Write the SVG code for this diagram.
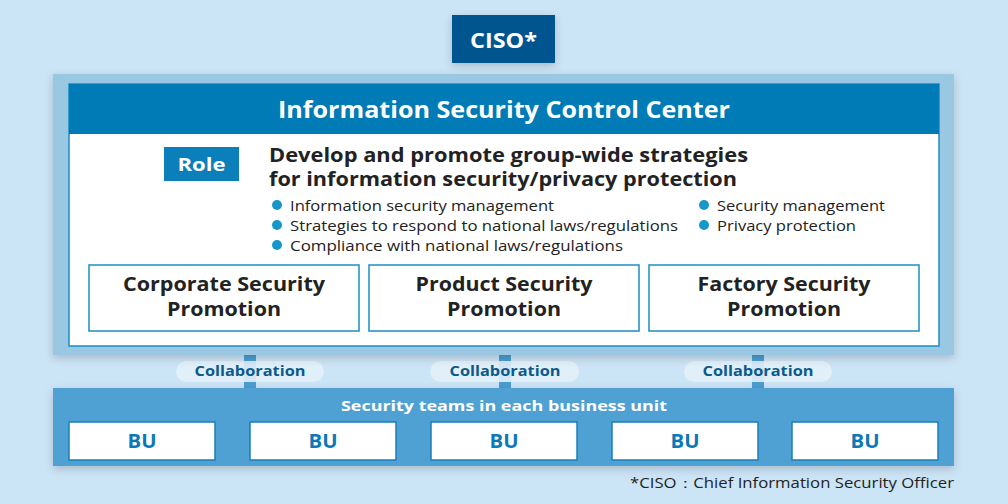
<svg xmlns="http://www.w3.org/2000/svg" width="1008" height="504" viewBox="0 0 1008 504">
<defs>
<style>
text{font-family:"Open Sans","Noto Sans","Liberation Sans",sans-serif;font-weight:700}
.sub{fill:#fff;stroke:#1b8dc4;stroke-width:1.5}
.subt{font-size:19px;fill:#222;text-anchor:middle}
.bu{fill:#fff;stroke:#1a7fb8;stroke-width:1.5}
.but{font-size:19px;fill:#0b79b7;text-anchor:middle}
.pill{fill:#e3f0fa;opacity:0.9}
.pt{font-size:14px;fill:#0b5a8c;text-anchor:middle}
.bar{fill:#4a9dcf}
.li{font-size:15px;font-weight:400;fill:#222}
.dot{fill:#1796c8}
</style>
<filter id="sh" x="-10%" y="-10%" width="120%" height="130%"><feDropShadow dx="0" dy="3" stdDeviation="4" flood-color="#000" flood-opacity="0.18"/></filter>
</defs>
<rect width="1008" height="504" fill="#cbe4f6"/>
<g id="ciso">
<rect x="452" y="15" width="103" height="48" fill="#00558f" filter="url(#sh)"/>
<text x="503.5" y="48" font-size="21" fill="#fff" text-anchor="middle" textLength="67" lengthAdjust="spacingAndGlyphs">CISO*</text>
</g>
<g id="connectors">
<rect class="bar" x="244" y="346" width="12" height="42"/>
<rect class="bar" x="499" y="346" width="12" height="42"/>
<rect class="bar" x="752" y="346" width="12" height="42"/>
<rect class="pill" x="176" y="361" width="148" height="21" rx="10.5"/>
<rect class="pill" x="430" y="361" width="149" height="21" rx="10.5"/>
<rect class="pill" x="684" y="361" width="148" height="21" rx="10.5"/>
<text class="pt" x="250" y="376" textLength="111" lengthAdjust="spacingAndGlyphs">Collaboration</text>
<text class="pt" x="505" y="376" textLength="111" lengthAdjust="spacingAndGlyphs">Collaboration</text>
<text class="pt" x="758" y="376" textLength="111" lengthAdjust="spacingAndGlyphs">Collaboration</text>
</g>
<g id="iscc">
<rect x="53" y="74" width="901" height="281" fill="#9ac8e3" filter="url(#sh)"/>
<rect x="69" y="84" width="870" height="262" fill="#fff" stroke="#1b8dc4" stroke-width="1.5"/>
<rect x="69" y="84" width="870" height="50" fill="#007bb5"/>
<text x="504" y="118" font-size="23" fill="#fff" text-anchor="middle" textLength="452" lengthAdjust="spacingAndGlyphs">Information Security Control Center</text>
<rect x="164" y="147" width="75" height="34" fill="#0a7fba"/>
<text x="201.5" y="171" font-size="18" fill="#fff" text-anchor="middle" textLength="48" lengthAdjust="spacingAndGlyphs">Role</text>
<text x="269" y="162" font-size="19" fill="#222" textLength="479" lengthAdjust="spacingAndGlyphs">Develop and promote group-wide strategies</text>
<text x="269" y="186" font-size="19" fill="#222" textLength="468" lengthAdjust="spacingAndGlyphs">for information security/privacy protection</text>
<circle class="dot" cx="277" cy="205" r="5"/><text class="li" x="290" y="211" textLength="264" lengthAdjust="spacingAndGlyphs">Information security management</text>
<circle class="dot" cx="277" cy="225" r="5"/><text class="li" x="290" y="231" textLength="388" lengthAdjust="spacingAndGlyphs">Strategies to respond to national laws/regulations</text>
<circle class="dot" cx="277" cy="245" r="5"/><text class="li" x="290" y="251" textLength="333" lengthAdjust="spacingAndGlyphs">Compliance with national laws/regulations</text>
<circle class="dot" cx="704" cy="205" r="5"/><text class="li" x="717" y="211" textLength="168" lengthAdjust="spacingAndGlyphs">Security management</text>
<circle class="dot" cx="704" cy="225" r="5"/><text class="li" x="717" y="231" textLength="139" lengthAdjust="spacingAndGlyphs">Privacy protection</text>
</g>
<g id="corp"><rect class="sub" x="89" y="265" width="270" height="66"/><text class="subt" x="224" y="291" textLength="202" lengthAdjust="spacingAndGlyphs">Corporate Security</text><text class="subt" x="224" y="316" textLength="114" lengthAdjust="spacingAndGlyphs">Promotion</text></g>
<g id="prod"><rect class="sub" x="369" y="265" width="270" height="66"/><text class="subt" x="504" y="291" textLength="177" lengthAdjust="spacingAndGlyphs">Product Security</text><text class="subt" x="504" y="316" textLength="114" lengthAdjust="spacingAndGlyphs">Promotion</text></g>
<g id="fact"><rect class="sub" x="649" y="265" width="270" height="66"/><text class="subt" x="784" y="291" textLength="173" lengthAdjust="spacingAndGlyphs">Factory Security</text><text class="subt" x="784" y="316" textLength="114" lengthAdjust="spacingAndGlyphs">Promotion</text></g>
<g id="teams">
<rect x="53" y="388" width="901" height="78" fill="#4fa1d3" filter="url(#sh)"/>
<text x="504" y="411" font-size="15" fill="#fff" text-anchor="middle" textLength="326" lengthAdjust="spacingAndGlyphs">Security teams in each business unit</text>
</g>
<g id="bu1"><rect class="bu" x="69" y="422" width="146" height="38"/><text class="but" x="142" y="448" textLength="29" lengthAdjust="spacingAndGlyphs">BU</text></g>
<g id="bu2"><rect class="bu" x="250" y="422" width="146" height="38"/><text class="but" x="323" y="448" textLength="29" lengthAdjust="spacingAndGlyphs">BU</text></g>
<g id="bu3"><rect class="bu" x="431" y="422" width="146" height="38"/><text class="but" x="504" y="448" textLength="29" lengthAdjust="spacingAndGlyphs">BU</text></g>
<g id="bu4"><rect class="bu" x="612" y="422" width="146" height="38"/><text class="but" x="685" y="448" textLength="29" lengthAdjust="spacingAndGlyphs">BU</text></g>
<g id="bu5"><rect class="bu" x="792" y="422" width="146" height="38"/><text class="but" x="865" y="448" textLength="29" lengthAdjust="spacingAndGlyphs">BU</text></g>
<text x="954" y="488" font-size="14" fill="#222" text-anchor="end" style="font-weight:400" textLength="324" lengthAdjust="spacingAndGlyphs">*CISO：Chief Information Security Officer</text>
</svg>
